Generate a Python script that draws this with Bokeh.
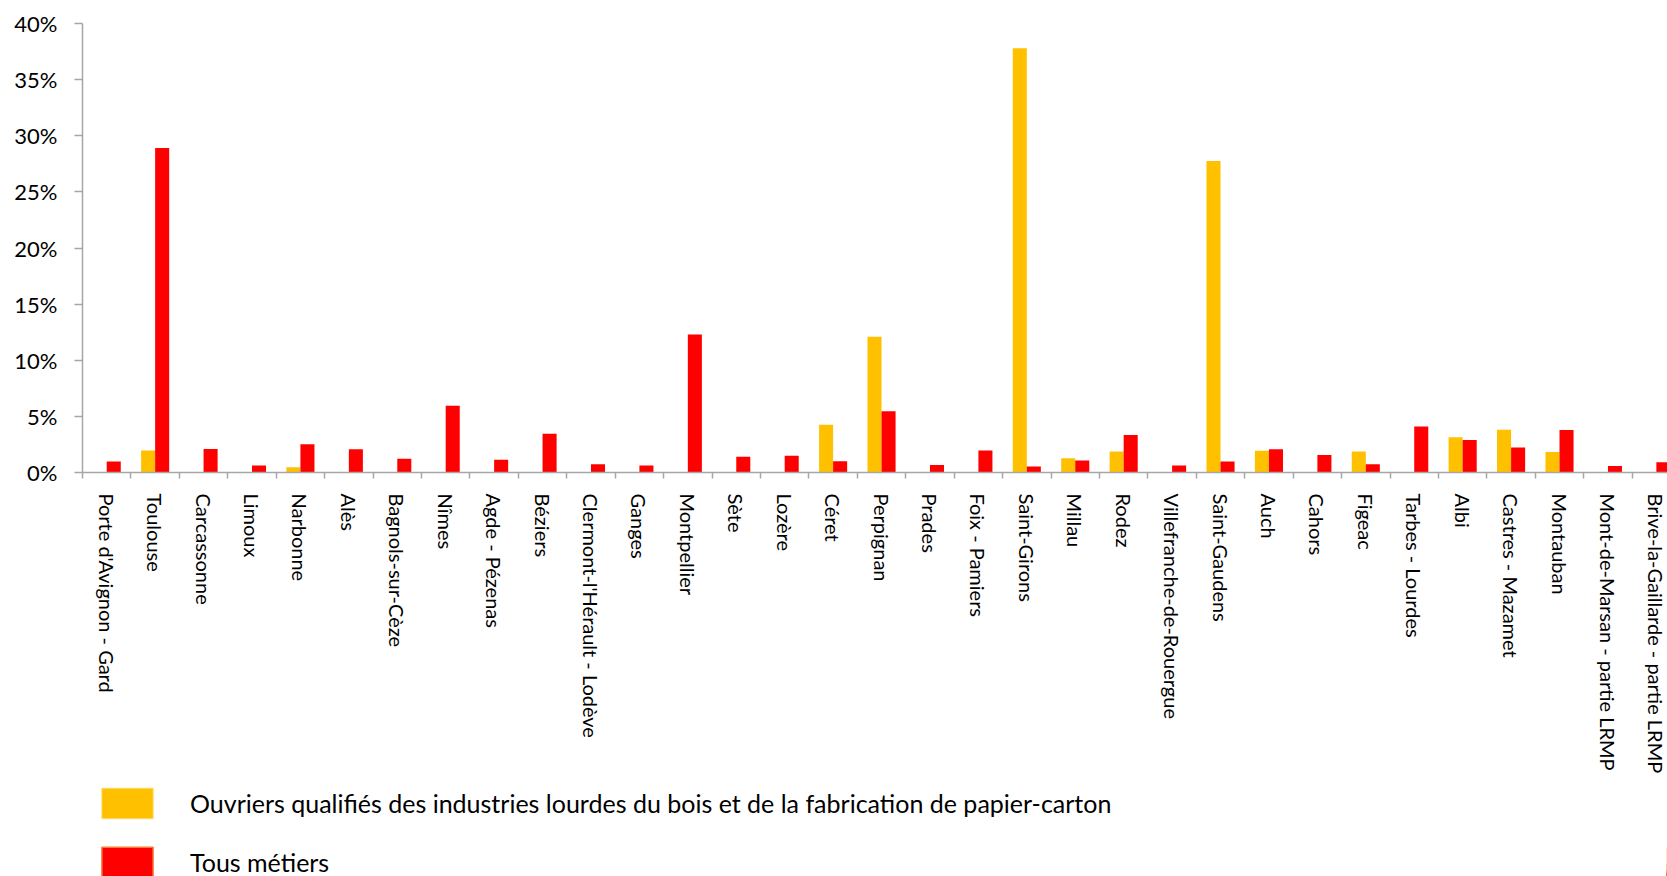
import math
from bokeh.plotting import figure
from bokeh.layouts import column
from bokeh.models import (ColumnDataSource, Range1d, FixedTicker, NumeralTickFormatter,
                          Legend, LegendItem)
from bokeh.transform import dodge
from bokeh.embed import file_html
from bokeh.resources import INLINE

categories = [
    "Porte d'Avignon - Gard", "Toulouse", "Carcassonne", "Limoux", "Narbonne", "Alès",
    "Bagnols-sur-Cèze", "Nîmes", "Agde - Pézenas", "Béziers", "Clermont-l'Hérault - Lodève",
    "Ganges", "Montpellier", "Sète", "Lozère", "Céret", "Perpignan", "Prades",
    "Foix - Pamiers", "Saint-Girons", "Millau", "Rodez", "Villefranche-de-Rouergue",
    "Saint-Gaudens", "Auch", "Cahors", "Figeac", "Tarbes - Lourdes", "Albi",
    "Castres - Mazamet", "Montauban", "Mont-de-Marsan - partie LRMP",
    "Brive-la-Gaillarde - partie LRMP",
]

# values in percent
ouvriers = [0, 1.96, 0, 0, 0.47, 0, 0, 0, 0, 0, 0, 0, 0, 0, 0, 4.25, 12.1, 0, 0, 37.8,
            1.26, 1.88, 0, 27.75, 1.93, 0, 1.88, 0, 3.14, 3.81, 1.82, 0, 0]
tous = [0.97, 28.9, 2.1, 0.62, 2.52, 2.08, 1.23, 5.95, 1.14, 3.46, 0.73, 0.62, 12.3, 1.41,
        1.49, 1.0, 5.45, 0.67, 1.96, 0.53, 1.08, 3.34, 0.62, 0.97, 2.08, 1.55, 0.73, 4.1,
        2.9, 2.23, 3.78, 0.59, 0.91]

y_ticks = [0, 0.05, 0.10, 0.15, 0.20, 0.25, 0.30, 0.35, 0.40]

label_ouvriers = "Ouvriers qualifiés des industries lourdes du bois et de la fabrication de papier-carton"
label_tous = "Tous métiers"

YELLOW = "#FFC000"
RED = "#FF0000"
AXIS_GREY = "#A6A6A6"

n = len(categories)
centers = [i + 0.5 for i in range(n)]
bounds = list(range(n + 1))

src = ColumnDataSource(dict(
    x=centers,
    ouvriers=[v / 100 for v in ouvriers],
    tous=[v / 100 for v in tous],
    name=categories,
))

W = 1667
H_MAIN = 776
H_LEG = 100

p = figure(width=W, height=H_MAIN, output_backend="svg", toolbar_location=None,
           x_range=Range1d(0, n - 0.27), y_range=Range1d(0, 0.40),
           min_border_left=82, min_border_right=0, min_border_top=23,
           min_border_bottom=H_MAIN - 478)
p.outline_line_color = None
p.xgrid.visible = False
p.ygrid.visible = False
p.background_fill_color = "white"
p.border_fill_color = "white"

bw = 0.29
p.vbar(x=dodge("x", -bw / 2, range=p.x_range), top="ouvriers", width=bw, bottom=0,
       source=src, fill_color=YELLOW, line_color=None)
p.vbar(x=dodge("x", bw / 2, range=p.x_range), top="tous", width=bw, bottom=0,
       source=src, fill_color=RED, line_color=None)

# y axis
p.yaxis.ticker = FixedTicker(ticks=y_ticks)
p.yaxis.formatter = NumeralTickFormatter(format="0%")
p.yaxis.axis_line_color = AXIS_GREY
p.yaxis.axis_line_width = 1.5
p.yaxis.major_tick_line_color = AXIS_GREY
p.yaxis.major_tick_line_width = 1.5
p.yaxis.major_tick_out = 8
p.yaxis.major_tick_in = 0
p.yaxis.minor_tick_line_color = None
p.yaxis.major_label_standoff = 17
p.yaxis.major_label_text_font = "Lato"
p.yaxis.major_label_text_font_size = "22px"
p.yaxis.major_label_text_color = "#000000"

# x axis: labels at category centres, tick marks between categories
p.xaxis.ticker = FixedTicker(ticks=centers, minor_ticks=bounds)
p.xaxis.major_label_overrides = {c: name for c, name in zip(centers, categories)}
p.xaxis.axis_line_color = AXIS_GREY
p.xaxis.axis_line_width = 1.5
p.xaxis.major_tick_line_color = None
p.xaxis.major_tick_out = 0
p.xaxis.major_tick_in = 0
p.xaxis.minor_tick_line_color = AXIS_GREY
p.xaxis.minor_tick_line_width = 1.5
p.xaxis.minor_tick_out = 6
p.xaxis.minor_tick_in = 0
p.xaxis.major_label_orientation = -math.pi / 2
p.xaxis.major_label_standoff = 15
p.xaxis.major_label_text_font = "Lato"
p.xaxis.major_label_text_font_size = "20px"
p.xaxis.major_label_text_color = "#000000"

# legend strip below the chart (its bars lie outside its visible range)
pl = figure(width=W, height=H_LEG, output_backend="svg", toolbar_location=None,
            x_range=Range1d(-2, -1), y_range=Range1d(0, 1),
            x_axis_type=None, y_axis_type=None,
            min_border_left=0, min_border_right=0, min_border_top=0, min_border_bottom=0)
pl.outline_line_color = None
pl.xgrid.visible = False
pl.ygrid.visible = False
pl.border_fill_color = "white"
l1 = pl.vbar(x="x", top="ouvriers", width=bw, source=src, fill_color=YELLOW,
             line_color="#FFD966", line_width=1)
l2 = pl.vbar(x="x", top="tous", width=bw, source=src, fill_color=RED,
             line_color="#F4793B", line_width=1.5)

legend = Legend(items=[LegendItem(label=label_ouvriers, renderers=[l1], index=0),
                       LegendItem(label=label_tous, renderers=[l2], index=0)],
                location=(13, -5), orientation="vertical",
                glyph_width=64, glyph_height=38, label_height=38, spacing=21,
                label_standoff=31, padding=0, margin=0,
                border_line_color=None, background_fill_alpha=0,
                label_text_font="Lato", label_text_font_size="25px",
                label_text_color="#000000")
pl.add_layout(legend)

layout = column(p, pl, spacing=0)
open("out.html", "w").write(file_html(layout, INLINE))
